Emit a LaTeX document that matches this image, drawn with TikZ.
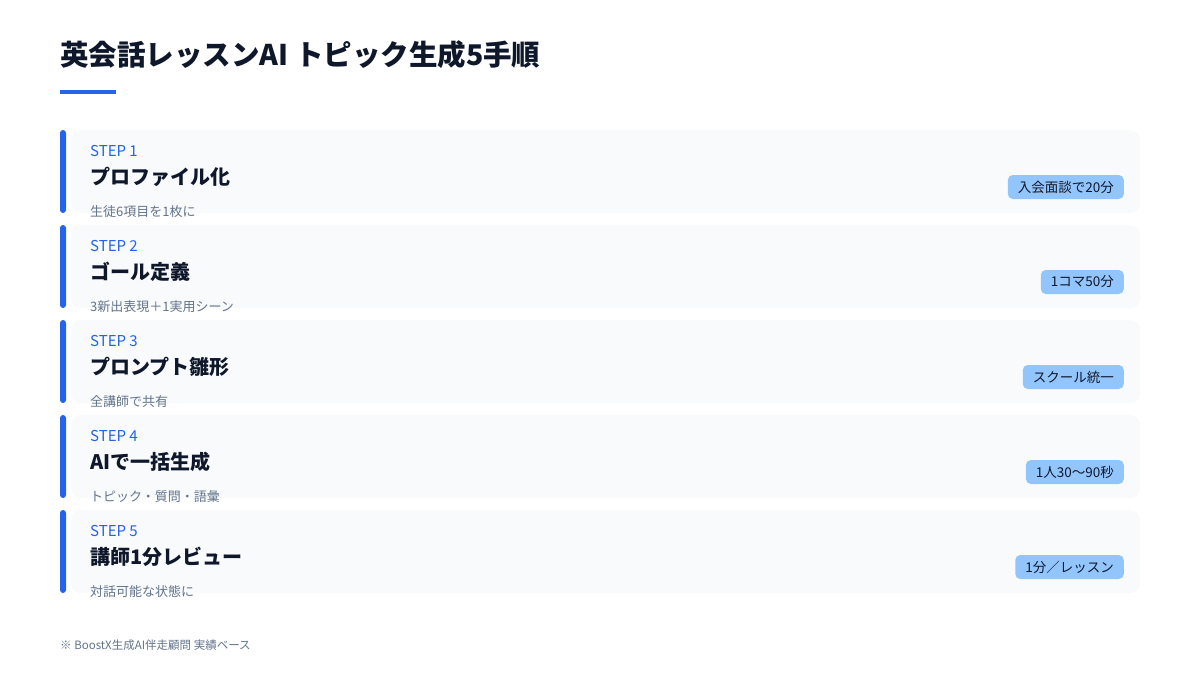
\documentclass[tikz,border=0pt]{standalone}
\usepackage{fontspec}
\setmainfont{Noto Sans CJK JP}
\definecolor{bluemain}{HTML}{2563EB}
\definecolor{ink}{HTML}{0F172A}
\definecolor{muted}{HTML}{64748B}
\definecolor{cardbg}{HTML}{F8FAFC}
\definecolor{badgebg}{HTML}{93C5FD}
\tikzset{
  card/.style={fill=cardbg, rounded corners=10pt, minimum width=1069pt, minimum height=83pt, inner sep=0pt, anchor=north west},
  accentbar/.style={fill=bluemain, rounded corners=3pt},
  steplabel/.style={anchor=west, inner sep=0pt, text=bluemain, font=\fontsize{15}{17}\selectfont},
  steptitle/.style={anchor=west, inner sep=0pt, text=ink, font=\fontsize{20}{24}\selectfont\bfseries},
  stepsub/.style={anchor=west, inner sep=0pt, text=muted, font=\fontsize{13}{15}\selectfont},
  badge/.style={anchor=east, fill=badgebg, rounded corners=5pt, inner xsep=10pt, minimum height=24pt, text=ink, font=\fontsize{13.5}{15}\selectfont},
}
\begin{document}
\begin{tikzpicture}[x=1pt,y=-1pt]
\useasboundingbox[fill=white] (0,0) rectangle (1200,675);
\node[anchor=west, inner sep=0pt, text=ink, font=\fontsize{28.5}{32}\selectfont\bfseries] (maintitle) at (60,55) {英会話レッスンAI トピック生成5手順};
\fill[bluemain] (60,90) rectangle (116,94);
\foreach \i/\lab/\ttl/\sub/\bdg in {
  1/STEP 1/プロファイル化/生徒6項目を1枚に/入会面談で20分,
  2/STEP 2/ゴール定義/3新出表現＋1実用シーン/1コマ50分,
  3/STEP 3/プロンプト雛形/全講師で共有/スクール統一,
  4/STEP 4/AIで一括生成/トピック・質問・語彙/1人30〜90秒,
  5/STEP 5/講師1分レビュー/対話可能な状態に/1分／レッスン}{
  \pgfmathsetmacro{\top}{130+95*(\i-1)}
  \node[card] (card\i) at (71,\top) {};
  \fill[accentbar] (60,\top) rectangle (66,\top+83);
  \node[steplabel] (step\i) at (90,\top+21) {\lab};
  \node[steptitle] (title\i) at (90,\top+47) {\ttl};
  \node[stepsub] (sub\i) at (90,\top+82) {\sub};
  \node[badge] (badge\i) at (1124,\top+57) {\bdg};
}
\node[anchor=west, inner sep=0pt, text=muted, font=\fontsize{11.5}{13}\selectfont] (footer) at (60,645) {※ BoostX生成AI伴走顧問 実績ベース};
\end{tikzpicture}
\end{document}
